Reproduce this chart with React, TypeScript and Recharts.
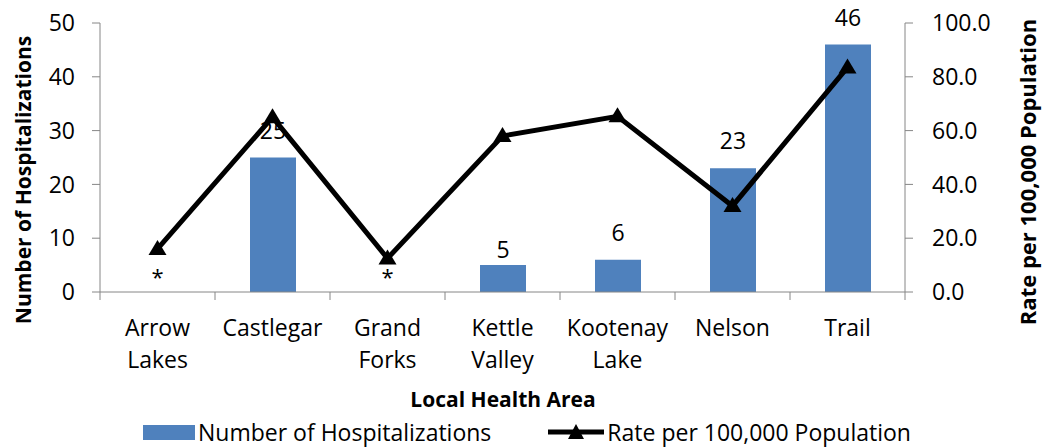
import React from "react";
import {
  ComposedChart,
  Bar,
  Line,
  XAxis,
  YAxis,
  Legend,
  LabelList,
} from "recharts";

const areas = [
  "Arrow Lakes",
  "Castlegar",
  "Grand Forks",
  "Kettle Valley",
  "Kootenay Lake",
  "Nelson",
  "Trail",
];
// null = suppressed count, shown as "*"
const hospitalizations = [null, 25, null, 5, 6, 23, 46];
const ratePer100k = [16, 65, 12.5, 58, 65.3, 32, 83.5];
const countTicks = [0, 10, 20, 30, 40, 50];
const rateTicks = [0, 20, 40, 60, 80, 100];

const data = areas.map((area, i) => ({
  area,
  count: hospitalizations[i],
  suppressed: hospitalizations[i] == null ? 0 : null,
  rate: ratePer100k[i],
}));

const FONT = "'Open Sans', sans-serif";
const BLUE = "#4F81BD";
const AXIS = "#868686";

function AreaTick({ x, y, payload }: any) {
  const words = String(payload.value).split(" ");
  const half = payload.offset ?? 57.5;
  const isLast = payload.index === areas.length - 1;
  return (
    <g>
      <line x1={x - half} x2={x - half} y1={y - 8} y2={y} stroke={AXIS} />
      {isLast && <line x1={x + half} x2={x + half} y1={y - 8} y2={y} stroke={AXIS} />}
      <text x={x} y={y + 36} textAnchor="middle" fontSize={23} fontFamily={FONT} fill="#000">
        {words.map((w, i) => (
          <tspan key={i} x={x} dy={i === 0 ? 0 : 32}>
            {w}
          </tspan>
        ))}
      </text>
    </g>
  );
}

function CountLabel({ x, y, width, value, index }: any) {
  if (value == null) return null;
  // the Castlegar label sits lower in the original, right on the bar
  const gap = index === 1 ? 7 : 19;
  return (
    <text x={x + width / 2} y={y - gap} textAnchor="middle" fontSize={23} fontFamily={FONT} fill="#000">
      {value}
    </text>
  );
}

function StarLabel({ x, y, value }: any) {
  if (value == null) return null;
  return (
    <text x={x} y={y - 7} textAnchor="middle" fontSize={22} fontFamily={FONT} fill="#000">
      *
    </text>
  );
}

function Triangle({ cx, cy }: any) {
  if (cx == null || cy == null) return null;
  return <path d={`M${cx},${cy - 9} L${cx + 9},${cy + 6} L${cx - 9},${cy + 6} Z`} fill="#000" />;
}

function Title({ px, py, rot = 0, text, size = 21 }: any) {
  return (
    <text
      transform={`translate(${px},${py}) rotate(${rot})`}
      textAnchor="middle"
      dominantBaseline="central"
      fontSize={size}
      fontWeight="bold"
      fontFamily={FONT}
      fill="#000"
    >
      {text}
    </text>
  );
}

function LegendContent() {
  return (
    <div
      style={{
        display: "flex",
        alignItems: "center",
        paddingLeft: 143,
        fontFamily: FONT,
        fontSize: 23,
        color: "#000",
        height: 30,
        whiteSpace: "nowrap",
      }}
    >
      <span style={{ display: "inline-block", width: 52, height: 15, background: BLUE, marginRight: 3 }} />
      <span>Number of Hospitalizations</span>
      <svg width={58} height={20} style={{ marginLeft: 56, marginRight: 2 }}>
        <line x1={1} x2={57} y1={10} y2={10} stroke="#000" strokeWidth={5} />
        <path d="M29,2 L37,17 L21,17 Z" fill="#000" />
      </svg>
      <span>Rate per 100,000 Population</span>
    </div>
  );
}

export default function App() {
  return (
    <div style={{ position: "absolute", left: 0, top: 0, width: 1044, height: 447, background: "#fff" }}>
      <ComposedChart
        width={1044}
        height={447}
        data={data}
        margin={{ top: 23, right: 0, bottom: 0, left: 0 }}
        barCategoryGap={0}
      >
        <XAxis
          dataKey="area"
          height={125}
          axisLine={{ stroke: AXIS }}
          tickLine={false}
          tick={<AreaTick />}
          interval={0}
          label={<Title px={503} py={399} text="Local Health Area" />}
        />
        <YAxis
          yAxisId="left"
          width={100}
          domain={[0, 50]}
          ticks={countTicks}
          axisLine={{ stroke: AXIS }}
          tickLine={{ stroke: AXIS }}
          tickSize={8}
          tick={{ fontSize: 23, fontFamily: FONT, fill: "#000" }}
          tickMargin={17}
          label={<Title px={23} py={180} rot={-90} text="Number of Hospitalizations" />}
        />
        <YAxis
          yAxisId="right"
          orientation="right"
          width={139}
          domain={[0, 100]}
          ticks={rateTicks}
          tickFormatter={(v) => Number(v).toFixed(1)}
          axisLine={{ stroke: AXIS }}
          tickLine={{ stroke: AXIS }}
          tickSize={8}
          tick={{ fontSize: 23, fontFamily: FONT, fill: "#000", textAnchor: "start" }}
          tickMargin={19}
          label={<Title px={1027} py={172} rot={-90} text="Rate per 100,000 Population" size={22} />}
        />
        <Legend verticalAlign="bottom" height={30} content={<LegendContent />} />
        <Bar yAxisId="left" dataKey="count" fill={BLUE} barSize={46} isAnimationActive={false}>
          <LabelList dataKey="count" content={<CountLabel />} />
        </Bar>
        <Line
          yAxisId="left"
          dataKey="suppressed"
          stroke="none"
          dot={false}
          activeDot={false}
          isAnimationActive={false}
        >
          <LabelList dataKey="suppressed" content={<StarLabel />} />
        </Line>
        <Line
          yAxisId="right"
          dataKey="rate"
          type="linear"
          stroke="#000"
          strokeWidth={5}
          dot={<Triangle />}
          activeDot={false}
          isAnimationActive={false}
        />
      </ComposedChart>
    </div>
  );
}
